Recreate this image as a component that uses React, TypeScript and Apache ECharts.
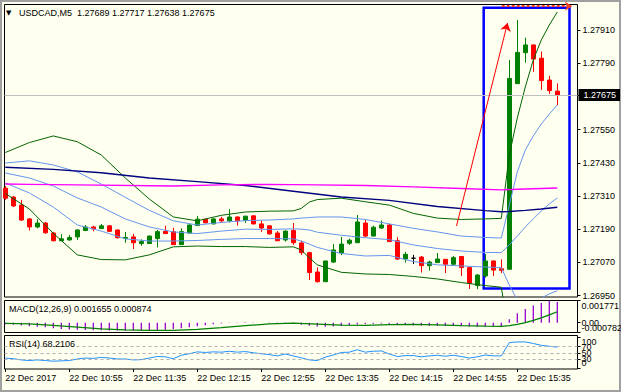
import React, { useEffect, useRef } from 'react';
import * as echarts from 'echarts';

const SYMBOL = 'USDCAD,M5';
const timeLabels = ['22 Dec 2017', '22 Dec 10:55', '22 Dec 11:35', '22 Dec 12:15', '22 Dec 12:55', '22 Dec 13:35', '22 Dec 14:15', '22 Dec 14:55', '22 Dec 15:35'];
const timeLabelBars = [0, 8, 16, 24, 32, 40, 48, 56, 64];
const priceTicks = [1.2695, 1.2707, 1.2719, 1.2731, 1.2743, 1.2755, 1.2779, 1.2791];

const opens = [1.27338, 1.27306, 1.27277, 1.27227, 1.27198, 1.27212, 1.27176, 1.27148, 1.27151, 1.27162,
  1.27185, 1.27198, 1.27192, 1.27202, 1.27187, 1.27156, 1.27162, 1.27138, 1.27138, 1.27156,
  1.27182, 1.27181, 1.27134, 1.27176, 1.27203, 1.27226, 1.27209, 1.27227, 1.27220, 1.27234,
  1.27221, 1.27238, 1.27209, 1.27202, 1.27176, 1.27151, 1.27185, 1.27140, 1.27105, 1.27035,
  1.27000, 1.27071, 1.27104, 1.27139, 1.27141, 1.27212, 1.27165, 1.27194, 1.27205, 1.27148,
  1.27082, 1.27085, 1.27089, 1.27058, 1.27069, 1.27081, 1.27063, 1.27091, 1.27051, 1.26986,
  1.27021, 1.27075, 1.27047, 1.27045, 1.27716, 1.27828, 1.27856, 1.27808, 1.27729, 1.27689];
const closes = [1.27302, 1.27274, 1.27223, 1.27198, 1.27212, 1.27177, 1.27148, 1.27155, 1.27160, 1.27187,
  1.27198, 1.27191, 1.27202, 1.27182, 1.27159, 1.27160, 1.27141, 1.27145, 1.27165, 1.27181,
  1.27174, 1.27134, 1.27181, 1.27205, 1.27226, 1.27213, 1.27227, 1.27220, 1.27234, 1.27220,
  1.27237, 1.27209, 1.27194, 1.27173, 1.27148, 1.27183, 1.27141, 1.27105, 1.27033, 1.27000,
  1.27075, 1.27115, 1.27136, 1.27150, 1.27216, 1.27165, 1.27197, 1.27205, 1.27145, 1.27082,
  1.27099, 1.27085, 1.27058, 1.27071, 1.27082, 1.27063, 1.27087, 1.27051, 1.26994, 1.27024,
  1.27075, 1.27042, 1.27041, 1.27735, 1.27829, 1.27856, 1.27805, 1.27727, 1.27691, 1.27675];
const lows = [1.27296, 1.27270, 1.27220, 1.27185, 1.27193, 1.27173, 1.27146, 1.27147, 1.27148, 1.27151,
  1.27183, 1.27182, 1.27191, 1.27180, 1.27156, 1.27141, 1.27118, 1.27130, 1.27136, 1.27124,
  1.27173, 1.27133, 1.27133, 1.27174, 1.27202, 1.27211, 1.27207, 1.27213, 1.27215, 1.27203,
  1.27213, 1.27207, 1.27180, 1.27170, 1.27147, 1.27145, 1.27133, 1.27097, 1.27006, 1.26997,
  1.27000, 1.27068, 1.27096, 1.27133, 1.27140, 1.27161, 1.27164, 1.27191, 1.27144, 1.27079,
  1.27069, 1.27064, 1.27033, 1.27040, 1.27068, 1.27031, 1.27062, 1.27021, 1.26974, 1.26973,
  1.27015, 1.27021, 1.27031, 1.27044, 1.27715, 1.27792, 1.27759, 1.27693, 1.27679, 1.27638];
const highs = [1.27346, 1.27310, 1.27296, 1.27230, 1.27226, 1.27216, 1.27180, 1.27172, 1.27169, 1.27189,
  1.27205, 1.27202, 1.27209, 1.27205, 1.27189, 1.27180, 1.27173, 1.27153, 1.27167, 1.27187,
  1.27202, 1.27195, 1.27193, 1.27207, 1.27238, 1.27227, 1.27229, 1.27235, 1.27262, 1.27236,
  1.27238, 1.27240, 1.27221, 1.27203, 1.27183, 1.27185, 1.27212, 1.27148, 1.27108, 1.27052,
  1.27075, 1.27136, 1.27162, 1.27156, 1.27241, 1.27224, 1.27202, 1.27221, 1.27209, 1.27161,
  1.27108, 1.27097, 1.27093, 1.27076, 1.27104, 1.27082, 1.27093, 1.27093, 1.27053, 1.27028,
  1.27100, 1.27077, 1.27081, 1.27802, 1.27946, 1.27882, 1.27858, 1.27832, 1.27744, 1.27717];

// Bollinger bands (20,2) and (20,1) read at these bars
const bandIdx = [0, 3, 6, 9, 12, 15, 18, 21, 24, 27, 30, 33, 36, 37, 38, 39, 42, 45, 48, 51, 54, 57, 60, 62, 63, 64, 65, 66, 67, 68, 69];
const bbUpper2 = [1.27467, 1.27503, 1.27527, 1.27506, 1.27458, 1.27375, 1.27299, 1.27234, 1.27220, 1.27240, 1.27252, 1.27255, 1.27256, 1.27265, 1.27288, 1.27297, 1.27302, 1.27289, 1.27277, 1.27247, 1.27230, 1.27225, 1.27227, 1.27229, 1.27458, 1.27592, 1.27704, 1.27802, 1.27874, 1.27928, 1.27975];
const bbUpper1 = [1.27429, 1.27437, 1.27422, 1.27397, 1.27353, 1.27305, 1.27258, 1.27220, 1.27205, 1.27214, 1.27221, 1.27223, 1.27227, 1.27230, 1.27232, 1.27234, 1.27234, 1.27225, 1.27209, 1.27193, 1.27180, 1.27165, 1.27160, 1.27158, 1.27277, 1.27397, 1.27476, 1.27527, 1.27570, 1.27606, 1.27639];
const bbMid = [1.27393, 1.27375, 1.27346, 1.27303, 1.27270, 1.27227, 1.27198, 1.27180, 1.27174, 1.27183, 1.27190, 1.27189, 1.27191, 1.27190, 1.27187, 1.27179, 1.27168, 1.27159, 1.27152, 1.27133, 1.27120, 1.27111, 1.27106, 1.27105, 1.27133, 1.27165, 1.27198, 1.27227, 1.27256, 1.27281, 1.27303];
const bbLower1 = [1.27357, 1.27321, 1.27270, 1.27205, 1.27183, 1.27155, 1.27147, 1.27147, 1.27149, 1.27153, 1.27156, 1.27156, 1.27155, 1.27147, 1.27136, 1.27124, 1.27102, 1.27093, 1.27095, 1.27073, 1.27061, 1.27057, 1.27053, 1.27051, 1.26988, 1.26934, 1.26920, 1.26927, 1.26941, 1.26956, 1.26967];
const bbLower2 = [1.27319, 1.27263, 1.27175, 1.27097, 1.27080, 1.27079, 1.27097, 1.27126, 1.27129, 1.27127, 1.27127, 1.27124, 1.27126, 1.27115, 1.27086, 1.27061, 1.27034, 1.27028, 1.27026, 1.27019, 1.27010, 1.26997, 1.26986, 1.26980, 1.26808, 1.26739, 1.26692, 1.26652, 1.26638, 1.26634, 1.26630];

const maSlowIdx = [0, 6, 12, 18, 24, 30, 36, 42, 48, 54, 60, 62, 63, 65, 67, 69];
const maSlow = [1.27414, 1.27406, 1.27394, 1.27375, 1.27362, 1.27348, 1.27327, 1.27306, 1.27294, 1.27272, 1.27257, 1.27253, 1.27254, 1.27258, 1.27263, 1.27269];
const maDailyIdx = [0, 3, 9, 21, 27, 33, 39, 45, 51, 57, 62, 64, 69];
const maDaily = [1.27353, 1.27352, 1.27350, 1.27346, 1.27350, 1.27352, 1.27350, 1.27348, 1.27343, 1.27337, 1.27332, 1.27334, 1.27339];

const macdMain = [-0.00012, -0.00016, -0.00022, -0.00028, -0.00032, -0.00037, -0.00045, -0.00051, -0.00055, -0.00057,
  -0.00059, -0.00060, -0.00061, -0.00062, -0.00063, -0.00064, -0.00065, -0.00065, -0.00063, -0.00060,
  -0.00056, -0.00051, -0.00045, -0.00037, -0.00028, -0.00020, -0.00013, -0.00007, -0.00003, 0.00001,
  0.00003, 0.00002, 0.00000, -0.00002, -0.00006, -0.00008, -0.00011, -0.00016, -0.00024, -0.00031,
  -0.00033, -0.00031, -0.00026, -0.00021, -0.00014, -0.00011, -0.00008, -0.00006, -0.00008, -0.00013,
  -0.00017, -0.00020, -0.00023, -0.00025, -0.00026, -0.00027, -0.00027, -0.00028, -0.00031, -0.00032,
  -0.00030, -0.00029, -0.00028, 0.00028, 0.00075, 0.00110, 0.00138, 0.00158, 0.001771, 0.001655];
const sigIdx = [0, 3, 6, 9, 12, 15, 18, 21, 24, 27, 30, 33, 36, 39, 42, 45, 48, 51, 54, 57, 60, 62, 63, 64, 65, 66, 67, 68, 69];
const macdSignal = [-0.00005, -0.00010, -0.00022, -0.00036, -0.00050, -0.00058, -0.00062, -0.00061, -0.00054, -0.00040, -0.00024, -0.00010, -0.00004, -0.00012, -0.00020, -0.00022, -0.00016, -0.00013, -0.00018, -0.00024, -0.00028, -0.00029, -0.00023, -0.00013, 0.00001, 0.00018, 0.00038, 0.00062, 0.000874];
const macdRange = [-0.000782, 0.001771];
const macdTicks = [0.001771, 0, -0.000782];

const rsi = [33, 31, 27, 25, 27, 25, 23, 24, 25, 30,
  33, 32, 35, 33, 30, 30, 27, 28, 33, 38,
  37, 31, 42, 47, 53, 51, 53, 52, 55, 52,
  54, 50, 47, 44, 40, 46, 40, 34, 27, 25,
  36, 43, 51, 52, 60, 52, 55, 56, 46, 38,
  41, 41, 37, 40, 42, 39, 42, 38, 33, 37,
  43, 40, 40, 83, 85, 85, 80, 74, 71, 68.2106];
const rsiLevels = [30, 50, 70];
const rsiTicks = [100, 70, 50, 30, 0];

// drawn objects, anchored in (bar index, price)
const trendLine = [[56.4, 1.272015], [62.78, 1.279354]];
const shiftArrow = [[62.05, 1.279961], [70.84, 1.279961]];
const box = [[59.8, 1.279903], [70.525, 1.269756]];

const FONT = 'Liberation Sans, Arial, sans-serif';

export default function App() {
  const ref = useRef<HTMLDivElement>(null);
  useEffect(() => {
    const chart = echarts.init(ref.current!, null, { renderer: 'svg' });
    const n = opens.length;
    const candles = opens.map((o, i) => [i, o, closes[i], lows[i], highs[i]]);
    const pairs = (idx: number[], vals: number[]) => idx.map((x, k) => [x, vals[k]]);
    const txt = { fontFamily: FONT, fontSize: 9, color: '#000' };
    const xMin = -0.1;
    const xMax = 71.525;
    const hiddenLine = { show: false, onZero: false };
    const xAxisBase = (gridIndex: number) => ({
      type: 'value', gridIndex, min: xMin, max: xMax,
      axisLine: hiddenLine, axisTick: { show: false }, axisLabel: { show: false }, splitLine: { show: false },
    });
    const rich = {
      t: { ...txt, padding: [10, 0, 0, 0] },
      b: { ...txt, padding: [0, 0, 10, 0] },
    };
    // one axis per label so that the overlapping MT4-style labels all stay visible
    const labelAxis = (gridIndex: number, min: number, max: number, v: number, text: string, show = true) => ({
      type: 'value', gridIndex, position: 'right', min, max,
      splitLine: { show: false }, axisLine: hiddenLine,
      axisTick: { show: true, length: 3, customValues: [v], lineStyle: { color: '#000' } },
      axisLabel: {
        show, customValues: [v], hideOverlap: false, margin: 4, ...txt, rich,
        formatter: () => (v === max ? `{t|${text}}` : v === min ? `{b|${text}}` : text),
      },
    });
    const line = (name: string, data: number[][], color: string, width: number, extra: any = {}) => ({
      type: 'line', name, xAxisIndex: 0, yAxisIndex: 0, data, showSymbol: false, symbol: 'none', silent: true,
      lineStyle: { color, width }, clip: true, ...extra,
    });
    const lastC = closes[n - 1];
    const macdAxes = macdTicks.map((v) => labelAxis(1, macdRange[0], macdRange[1], v, v === 0 ? '0.00' : v.toFixed(6)));
    const rsiAxes = rsiTicks.map((v) => labelAxis(2, -2.3, 105.8, v, String(v)));
    // fix rsi 0/100 label alignment (not axis min/max)
    rsiAxes[0].axisLabel.formatter = () => '{t|100}';
    rsiAxes[4].axisLabel.formatter = () => '{b|0}';
    const macdYIndex = 1;
    const rsiYIndex = 1 + macdAxes.length;
    const option: any = {
      animation: false,
      backgroundColor: '#FFFFF0',
      title: [
        {
          left: 6, top: 7, padding: 0,
          text: `{tri|▼}${SYMBOL}  ${opens[n - 1].toFixed(5)} ${highs[n - 1].toFixed(5)} ${lows[n - 1].toFixed(5)} ${lastC.toFixed(5)}`,
          textStyle: { ...txt, fontWeight: 'normal', lineHeight: 11, rich: { tri: { fontFamily: 'DejaVu Sans', fontSize: 7, width: 13, color: '#000' } } },
        },
        {
          left: 9, top: 303, padding: 0,
          text: `MACD(12,26,9) ${macdMain[n - 1].toFixed(6)} ${macdSignal[macdSignal.length - 1].toFixed(6)}`,
          textStyle: { ...txt, fontWeight: 'normal', lineHeight: 11 },
        },
        {
          left: 9, top: 338.5, padding: 0,
          text: `RSI(14) ${rsi[n - 1].toFixed(4)}`,
          textStyle: { ...txt, fontWeight: 'normal', lineHeight: 11 },
        },
      ],
      grid: [
        { left: 4.5, top: 4.5, width: 573, height: 292.5, show: true, borderColor: '#000', borderWidth: 1, backgroundColor: 'transparent', outerBoundsMode: 'none' },
        { left: 4.5, top: 300.5, width: 573, height: 32, show: true, borderColor: '#000', borderWidth: 1, backgroundColor: 'transparent', outerBoundsMode: 'none' },
        { left: 4.5, top: 335.5, width: 573, height: 33.5, show: true, borderColor: '#000', borderWidth: 1, backgroundColor: 'transparent', outerBoundsMode: 'none' },
      ],
      xAxis: [
        xAxisBase(0),
        xAxisBase(1),
        {
          ...xAxisBase(2),
          axisTick: { show: true, customValues: timeLabelBars, length: 3, lineStyle: { color: '#000' } },
          axisLabel: {
            show: true, customValues: timeLabelBars, hideOverlap: false, align: 'left', margin: 4, ...txt,
            formatter: (v: number) => timeLabels[timeLabelBars.indexOf(Math.round(v))] ?? '',
          },
        },
      ],
      yAxis: [
        {
          type: 'value', gridIndex: 0, position: 'right', min: 1.269447, max: 1.280022,
          splitLine: { show: false }, axisLine: hiddenLine,
          axisTick: { show: true, length: 3, customValues: [...priceTicks, lastC], lineStyle: { color: '#000' } },
          axisLabel: { customValues: priceTicks, hideOverlap: false, showMinLabel: true, showMaxLabel: true, margin: 5, ...txt, formatter: (v: number) => v.toFixed(5) },
        },
        ...macdAxes,
        ...rsiAxes,
      ],
      graphic: [
        { type: 'rect', shape: { x: 1, y: 1, width: 619, height: 390 }, style: { fill: 'none', stroke: '#A0A0A0', lineWidth: 2 }, silent: true },
      ],
      series: [
        {
          type: 'candlestick', xAxisIndex: 0, yAxisIndex: 0, data: candles, encode: { x: 0, y: [1, 2, 3, 4] },
          barWidth: 4, silent: true, clip: true,
          itemStyle: { color: '#008000', borderColor: '#008000', color0: '#FF0000', borderColor0: '#FF0000', borderColorDoji: '#000000', borderWidth: 1 },
        },
        line('bbUpper2', pairs(bandIdx, bbUpper2), '#006400', 1),
        line('bbLower2', pairs(bandIdx, bbLower2), '#006400', 1),
        line('bbUpper1', pairs(bandIdx, bbUpper1), '#6495ED', 1, {
          markArea: {
            silent: true,
            itemStyle: { color: 'rgba(0,0,0,0)', borderColor: '#0000FF', borderWidth: 2.5 },
            data: [[{ coord: box[0] }, { coord: box[1] }]],
          },
        }),
        line('bbMid', pairs(bandIdx, bbMid), '#6495ED', 1, {
          markLine: {
            silent: true, symbol: ['none', 'none'], animation: false, precision: 5,
            lineStyle: { color: '#C0C0C0', width: 1, type: 'solid' },
            label: { show: true, position: 'end', distance: 1, formatter: lastC.toFixed(5), backgroundColor: '#000', color: '#fff', padding: [2, 4, 1, 5], fontFamily: FONT, fontSize: 9 },
            data: [{ yAxis: lastC }],
          },
        }),
        line('bbLower1', pairs(bandIdx, bbLower1), '#6495ED', 1),
        line('maSlow', pairs(maSlowIdx, maSlow), '#000080', 1.4, {
          markLine: {
            silent: true, symbol: ['none', 'arrow'], symbolSize: 8, animation: false, precision: 6,
            lineStyle: { color: '#FF0000', width: 1, type: 'solid' },
            label: { show: false },
            data: [[{ coord: trendLine[0] }, { coord: trendLine[1] }]],
          },
        }),
        line('maDaily', pairs(maDailyIdx, maDaily), '#FF00FF', 1.4, {
          markLine: {
            silent: true, symbol: ['none', 'arrow'], symbolSize: 7, animation: false, precision: 6,
            lineStyle: { color: '#FF4020', width: 2, type: [3, 2] },
            label: { show: false },
            data: [[{ coord: shiftArrow[0] }, { coord: shiftArrow[1] }]],
          },
        }),
        {
          type: 'bar', xAxisIndex: 1, yAxisIndex: macdYIndex, data: macdMain.map((v, i) => [i, v]), barWidth: 1.3, silent: true,
          itemStyle: { color: '#9400D3' },
        },
        {
          type: 'line', xAxisIndex: 1, yAxisIndex: macdYIndex, data: pairs(sigIdx, macdSignal), showSymbol: false, symbol: 'none', silent: true,
          lineStyle: { color: '#008000', width: 1.3 },
        },
        {
          type: 'line', xAxisIndex: 2, yAxisIndex: rsiYIndex, data: rsi.map((v, i) => [i, v]), showSymbol: false, symbol: 'none', silent: true,
          lineStyle: { color: '#1E90FF', width: 1 },
          markLine: {
            silent: true, symbol: ['none', 'none'], animation: false,
            lineStyle: { color: '#B0B0B0', width: 1, type: [3, 3] },
            label: { show: false },
            data: rsiLevels.map((v) => ({ yAxis: v })),
          },
        },
      ],
    };
    chart.setOption(option);
    return () => chart.dispose();
  }, []);
  return <div ref={ref} style={{ position: 'fixed', left: 0, top: 0, width: 621, height: 392 }} />;
}
